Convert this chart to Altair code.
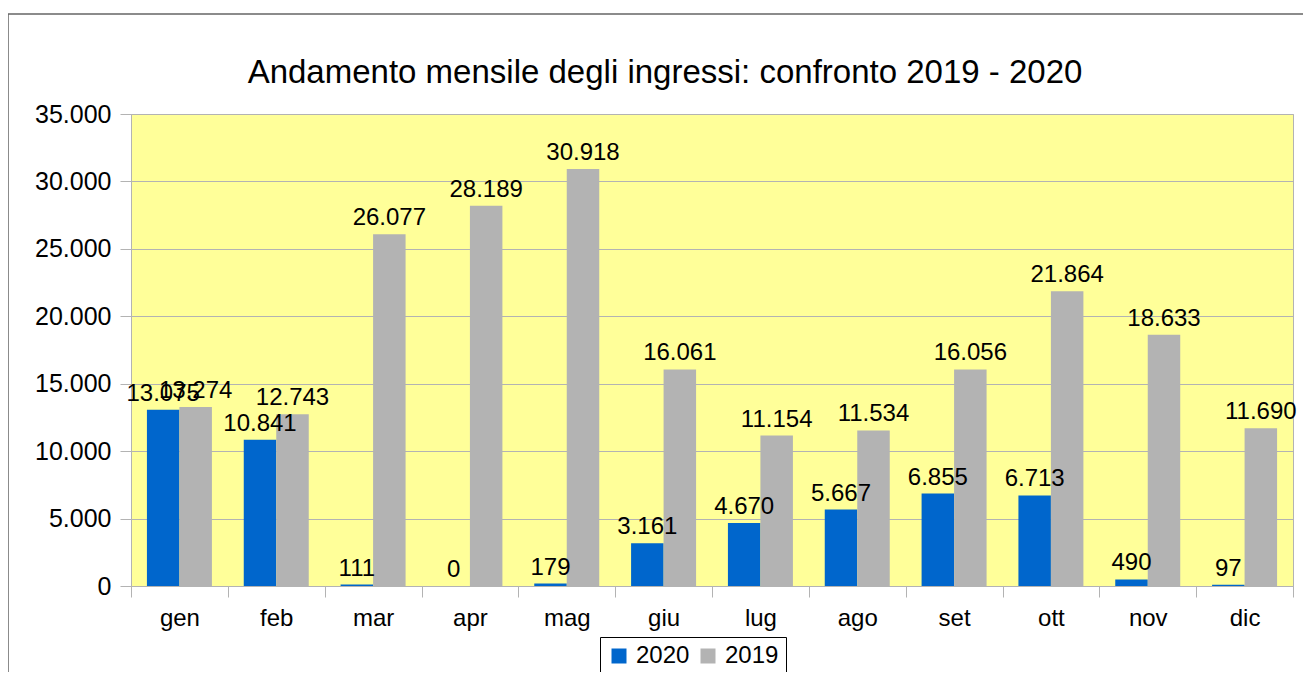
import altair as alt
import pandas as pd

months = ["gen", "feb", "mar", "apr", "mag", "giu", "lug", "ago", "set", "ott", "nov", "dic"]
v2020 = [13075, 10841, 111, 0, 179, 3161, 4670, 5667, 6855, 6713, 490, 97]
v2019 = [13274, 12743, 26077, 28189, 30918, 16061, 11154, 11534, 16056, 21864, 18633, 11690]
series = ["2020", "2019"]
colors = ["#0066cc", "#b3b3b3"]
y_ticks = [0, 5000, 10000, 15000, 20000, 25000, 30000, 35000]
title_text = "Andamento mensile degli ingressi: confronto 2019 - 2020"

rows = []
for i, m in enumerate(months):
    rows.append({"mese": m, "anno": "2020", "valore": v2020[i]})
    rows.append({"mese": m, "anno": "2019", "valore": v2019[i]})
df = pd.DataFrame(rows)

FONT = "Liberation Sans"
W, H = 1162, 472

base = alt.Chart(df).transform_calculate(
    lab="replace(format(datum.valore, ','), ',', '.')"
)

x = alt.X("mese:N", sort=months, title=None,
          scale=alt.Scale(paddingInner=0, paddingOuter=0),
          axis=alt.Axis(labelAngle=0, tickBand="extent", labelFont=FONT, labelFontSize=24,
                        labelColor="#000000", tickColor="#b3b3b3", domainColor="#b3b3b3",
                        tickSize=11, labelPadding=9, grid=False))
xo = alt.XOffset("anno:N", sort=series, scale=alt.Scale(paddingOuter=0.49, paddingInner=0))
y = alt.Y("valore:Q", title=None,
          scale=alt.Scale(domain=[0, 35000], nice=False),
          axis=alt.Axis(values=y_ticks, labelExpr="replace(format(datum.value, ','), ',', '.')",
                        labelFont=FONT, labelFontSize=25, labelColor="#000000",
                        tickColor="#b3b3b3", domainColor="#b3b3b3", gridColor="#b3b3b3",
                        tickSize=11, labelPadding=9))

bars = base.mark_bar().encode(
    x=x, xOffset=xo, y=y,
    color=alt.Color("anno:N", sort=series, title=None,
                    scale=alt.Scale(domain=series, range=colors),
                    legend=alt.Legend(orient="none", legendX=469, legendY=523, direction="horizontal",
                                      symbolType="square", symbolSize=225, symbolStrokeWidth=0,
                                      labelFont=FONT, labelFontSize=24, labelColor="#000000",
                                      labelOffset=5, columnPadding=6, padding=7,
                                      strokeColor="#000000", fillColor="#ffffff"))
)

texts = base.mark_text(baseline="bottom", dy=-4, font=FONT, fontSize=24, color="#000000").encode(
    x=alt.X("mese:N", sort=months), xOffset=alt.XOffset("anno:N", sort=series),
    y=alt.Y("valore:Q"), text="lab:N"
)

one = pd.DataFrame({"t": [title_text]})
frame = alt.Chart(one).mark_rect(fill=None, stroke="#666666", strokeWidth=1.5).encode(
    x=alt.value(-123), x2=alt.value(W + 40), y=alt.value(-100), y2=alt.value(H + 130)
)
title = alt.Chart(one).mark_text(font=FONT, fontSize=33, color="#000000", align="center",
                                 baseline="alphabetic").encode(
    x=alt.value(534), y=alt.value(-31), text="t:N"
)

chart = alt.layer(frame, bars, texts, title).properties(
    width=W, height=H,
    autosize=alt.AutoSizeParams(type="none"),
    padding={"left": 123, "top": 106, "right": 10, "bottom": 86},
).configure_view(fill="#ffff99", stroke="#b3b3b3")

chart.save("out.html", embed_options={"renderer": "svg", "actions": False})
